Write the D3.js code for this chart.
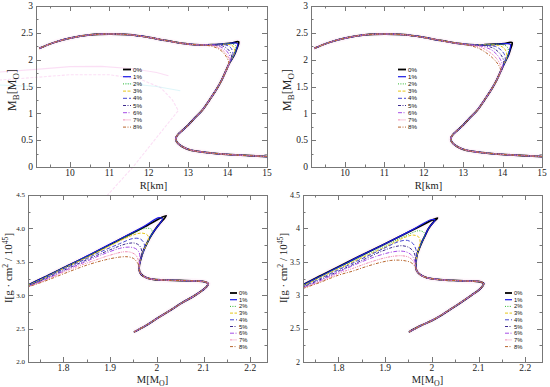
<!DOCTYPE html>
<html><head><meta charset="utf-8">
<script src="https://cdn.jsdelivr.net/npm/d3@7"></script>
<style>body{margin:0;background:#fff}svg{display:block}</style>
</head><body><svg id="c" width="550" height="387"></svg>
<script>
// ---------- series ----------
const seriesLabels = ["0%","1%","2%","3%","4%","5%","6%","7%","8%"];
const seriesColors = ["#000000","#1a1ae6","#2eb82e","#e6c619","#4747d1","#3d2b8f","#a64de6","#f08cb4","#b8662e"];
const seriesDash   = [null,null,"1,1.4","3,1.5","4,2","3,1.5,1,1.5","4,1.5,1,1.5","2.5,1,1,1,1,1","3,1.5,1,1.5"];
const seriesWidth  = [1.8,1.2,1,1,1,1,1,1,1];

// ---------- tick labels ----------
const rTicks = [10,11,12,13,14,15];
const mbTicks = [0,0.5,1,1.5,2,2.5,3];
const mTicks = [1.8,1.9,2.0,2.1,2.2];
const iTicks = [2.0,2.5,3.0,3.5,4.0,4.5];

// ---------- M_B vs R (top panels) ----------
const mrLower = [[15.0,0.195],[14.6,0.21],[14.2,0.225],[13.8,0.245],[13.5,0.267],[13.2,0.295],[13.0,0.33],[12.85,0.38],[12.74,0.44],[12.69,0.5],[12.7,0.56],[12.76,0.62],[12.85,0.68],[13.0,0.78],[13.15,0.9],[13.36,1.06],[13.55,1.26],[13.72,1.45],[13.85,1.62]];
const mrUpper = [[13.0,2.29],[12.67,2.325],[12.3,2.375],[12.0,2.415],[11.5,2.465],[11.0,2.478],[10.5,2.462],[10.0,2.40],[9.6,2.32],[9.22,2.21]];
const mrMidTL = [
  [[13.95,1.78],[14.05,1.94],[14.17,2.09],[14.23,2.2],[14.28,2.33],[14.1,2.31],[13.85,2.29],[13.6,2.278],[13.3,2.275]],
  [[13.95,1.78],[14.05,1.94],[14.17,2.09],[14.23,2.2],[14.26,2.29],[14.2,2.31],[14.0,2.3],[13.8,2.288],[13.6,2.278],[13.3,2.275]],
  [[13.95,1.78],[14.05,1.94],[14.16,2.09],[14.21,2.2],[14.2,2.27],[14.1,2.295],[13.9,2.29],[13.6,2.278],[13.3,2.275]],
  [[13.95,1.78],[14.05,1.94],[14.15,2.08],[14.18,2.17],[14.14,2.25],[14.03,2.285],[13.85,2.287],[13.6,2.277],[13.3,2.275]],
  [[13.95,1.78],[14.05,1.94],[14.13,2.06],[14.13,2.15],[14.07,2.23],[13.95,2.275],[13.8,2.285],[13.6,2.277],[13.3,2.275]],
  [[13.95,1.78],[14.05,1.94],[14.1,2.03],[14.08,2.12],[14.0,2.2],[13.88,2.255],[13.75,2.278],[13.6,2.276],[13.3,2.275]],
  [[13.95,1.78],[14.05,1.94],[14.07,2.0],[14.04,2.09],[13.95,2.18],[13.82,2.24],[13.7,2.268],[13.55,2.274],[13.3,2.275]],
  [[13.95,1.78],[14.04,1.93],[14.05,1.98],[14.0,2.07],[13.9,2.16],[13.77,2.225],[13.65,2.26],[13.5,2.272],[13.3,2.275]],
  [[13.95,1.78],[14.02,1.9],[14.03,1.95],[13.98,2.04],[13.88,2.14],[13.75,2.21],[13.6,2.25],[13.45,2.268],[13.3,2.273]]
];
const mrMidTR = [
  [[13.95,1.78],[14.05,1.94],[14.15,2.09],[14.2,2.2],[14.24,2.32],[14.05,2.3],[13.8,2.287],[13.55,2.278],[13.3,2.275]],
  [[13.95,1.78],[14.05,1.94],[14.15,2.09],[14.19,2.2],[14.2,2.28],[14.12,2.3],[13.9,2.29],[13.6,2.278],[13.3,2.275]],
  [[13.95,1.78],[14.05,1.94],[14.13,2.07],[14.15,2.17],[14.1,2.25],[13.95,2.285],[13.7,2.282],[13.3,2.275]],
  [[13.95,1.78],[14.04,1.93],[14.1,2.04],[14.1,2.13],[14.03,2.22],[13.9,2.265],[13.65,2.277],[13.3,2.275]],
  [[13.95,1.78],[14.03,1.91],[14.07,2.0],[14.05,2.09],[13.96,2.18],[13.82,2.245],[13.6,2.27],[13.3,2.274]],
  [[13.95,1.78],[14.01,1.88],[14.03,1.94],[14.0,2.04],[13.9,2.14],[13.75,2.22],[13.55,2.26],[13.3,2.272]],
  [[13.95,1.78],[13.99,1.85],[14.0,1.88],[13.96,1.98],[13.85,2.1],[13.7,2.19],[13.5,2.245],[13.3,2.268]],
  [[13.95,1.78],[13.97,1.84],[13.92,1.94],[13.8,2.06],[13.63,2.16],[13.45,2.23],[13.25,2.265]],
  [[13.95,1.79],[13.95,1.82],[13.88,1.92],[13.75,2.03],[13.58,2.13],[13.4,2.21],[13.2,2.258]]
];

// ---------- I vs M (bottom panels) ----------
const imLowerBL = [[1.951,2.45],[1.975,2.54],[2.0,2.65],[2.03,2.78],[2.055,2.89],[2.08,2.99],[2.097,3.07],[2.107,3.13],[2.11,3.175],[2.103,3.2],[2.085,3.212],[2.05,3.22],[2.02,3.225],[1.995,3.235],[1.98,3.255],[1.97,3.29],[1.964,3.34],[1.962,3.4]];
const imMidBL = [
  [[1.963,3.47],[1.966,3.55],[1.97,3.64],[1.977,3.75],[1.985,3.86],[1.995,3.97],[2.006,4.07],[2.02,4.19],[1.97,4.01],[1.9,3.76],[1.85,3.58],[1.8,3.41],[1.76,3.27],[1.724,3.15]],
  [[1.963,3.47],[1.966,3.55],[1.97,3.64],[1.977,3.75],[1.985,3.86],[1.995,3.97],[2.005,4.06],[2.012,4.14],[2.005,4.16],[1.97,4.02],[1.9,3.765],[1.85,3.585],[1.8,3.41],[1.76,3.27],[1.724,3.15]],
  [[1.963,3.47],[1.966,3.55],[1.97,3.64],[1.977,3.75],[1.985,3.86],[1.99,3.94],[1.988,3.99],[1.975,4.0],[1.95,3.93],[1.9,3.75],[1.85,3.575],[1.8,3.405],[1.76,3.265],[1.724,3.148]],
  [[1.963,3.47],[1.966,3.55],[1.97,3.64],[1.977,3.75],[1.982,3.84],[1.98,3.9],[1.968,3.93],[1.945,3.89],[1.9,3.74],[1.85,3.565],[1.8,3.4],[1.76,3.26],[1.724,3.145]],
  [[1.963,3.47],[1.966,3.55],[1.972,3.66],[1.973,3.77],[1.965,3.84],[1.95,3.85],[1.92,3.77],[1.88,3.65],[1.85,3.55],[1.8,3.39],[1.76,3.25],[1.724,3.14]],
  [[1.963,3.47],[1.966,3.55],[1.968,3.65],[1.963,3.74],[1.952,3.78],[1.935,3.77],[1.9,3.68],[1.85,3.53],[1.8,3.37],[1.76,3.24],[1.724,3.135]],
  [[1.963,3.47],[1.964,3.55],[1.962,3.64],[1.954,3.7],[1.94,3.72],[1.92,3.7],[1.88,3.6],[1.85,3.51],[1.8,3.36],[1.76,3.23],[1.724,3.13]],
  [[1.962,3.46],[1.96,3.53],[1.955,3.6],[1.945,3.64],[1.93,3.65],[1.9,3.6],[1.87,3.53],[1.83,3.43],[1.8,3.345],[1.76,3.22],[1.724,3.128]],
  [[1.961,3.45],[1.957,3.5],[1.95,3.55],[1.938,3.575],[1.92,3.57],[1.89,3.53],[1.85,3.45],[1.8,3.32],[1.76,3.21],[1.724,3.125]]
];
const imLowerBR = [[1.951,2.45],[1.975,2.54],[2.0,2.62],[2.014,2.675],[2.04,2.79],[2.064,2.9],[2.085,3.0],[2.1,3.075],[2.108,3.13],[2.111,3.175],[2.1,3.205],[2.08,3.21],[2.057,3.218],[2.03,3.225],[2.007,3.24],[1.99,3.26],[1.979,3.29],[1.97,3.34],[1.966,3.4]];
const imMidBR = [
  [[1.966,3.475],[1.968,3.6],[1.973,3.7],[1.979,3.8],[1.986,3.9],[1.993,4.0],[2.003,4.09],[2.012,4.155],[1.96,3.98],[1.9,3.77],[1.85,3.6],[1.8,3.425],[1.76,3.285],[1.724,3.155]],
  [[1.966,3.475],[1.968,3.6],[1.973,3.7],[1.979,3.8],[1.986,3.9],[1.993,4.0],[2.002,4.08],[2.007,4.125],[1.998,4.13],[1.96,3.985],[1.9,3.77],[1.85,3.6],[1.8,3.42],[1.76,3.28],[1.724,3.152]],
  [[1.966,3.475],[1.968,3.6],[1.973,3.7],[1.979,3.8],[1.984,3.88],[1.983,3.94],[1.972,3.965],[1.95,3.91],[1.9,3.74],[1.85,3.58],[1.8,3.41],[1.76,3.27],[1.724,3.145]],
  [[1.966,3.475],[1.968,3.6],[1.972,3.7],[1.975,3.8],[1.972,3.87],[1.96,3.9],[1.94,3.86],[1.9,3.72],[1.85,3.56],[1.8,3.395],[1.76,3.26],[1.724,3.14]],
  [[1.966,3.475],[1.967,3.58],[1.966,3.68],[1.96,3.77],[1.948,3.82],[1.93,3.805],[1.9,3.71],[1.85,3.545],[1.8,3.38],[1.76,3.245],[1.724,3.13]],
  [[1.966,3.47],[1.965,3.56],[1.961,3.65],[1.952,3.71],[1.938,3.74],[1.92,3.725],[1.89,3.65],[1.85,3.52],[1.8,3.36],[1.76,3.23],[1.724,3.12]],
  [[1.965,3.46],[1.962,3.54],[1.955,3.61],[1.944,3.65],[1.93,3.66],[1.91,3.64],[1.88,3.58],[1.85,3.5],[1.8,3.345],[1.76,3.215],[1.724,3.112]],
  [[1.964,3.45],[1.959,3.52],[1.95,3.57],[1.937,3.59],[1.92,3.585],[1.9,3.56],[1.87,3.5],[1.83,3.4],[1.8,3.325],[1.76,3.2],[1.724,3.105]],
  [[1.963,3.44],[1.955,3.49],[1.943,3.515],[1.928,3.525],[1.912,3.52],[1.89,3.49],[1.86,3.43],[1.83,3.36],[1.8,3.3],[1.76,3.19],[1.724,3.10]]
];

// ---------- faint ghost traces visible in the top-left panel ----------
const ghostPinkA = [[8.2,1.77],[9.14,1.82],[10.0,1.87],[10.8,1.875],[11.6,1.83],[12.2,1.76],[12.5,1.70]];
const ghostPinkB = [[8.2,1.62],[9.14,1.67],[10.0,1.72],[11.0,1.72],[11.8,1.63],[12.3,1.48],[12.6,1.25],[12.75,1.05],[12.2,0.55],[11.6,0.0],[10.91,-0.56]];
const ghostCyanA = [[8.2,1.53],[9.1,1.5]];
const ghostCyanB = [[11.4,1.56],[12.2,1.5],[12.8,1.42]];

// ---------- drawing ----------
const svg = d3.select("#c");
const serif = "'Liberation Serif','Times New Roman',serif";
const sans = "'Liberation Sans',Arial,sans-serif";

function panel(o){
  const x = d3.scaleLinear().domain(o.xd).range([o.x0,o.x1]);
  const y = d3.scaleLinear().domain(o.yd).range([o.y1,o.y0]);
  const g = svg.append("g");
  const cid = "clip"+o.id;
  svg.append("clipPath").attr("id",cid).append("rect")
    .attr("x",o.x0).attr("y",o.y0).attr("width",o.x1-o.x0).attr("height",o.y1-o.y0);
  const line = d3.line().x(d=>x(d[0])).y(d=>y(d[1])).curve(d3.curveCatmullRom.alpha(0.5));
  const lineStraight = d3.line().x(d=>x(d[0])).y(d=>y(d[1]));

  // ghosts (unclipped, faint)
  (o.ghosts||[]).forEach(gh=>{
    g.append("path").attr("d",lineStraight(gh.d)).attr("fill","none")
     .attr("stroke",gh.c).attr("stroke-width",1.1).attr("stroke-dasharray",gh.dash||null).attr("opacity",0.55);
  });

  // axes ticks (inside, mirrored)
  const minorX = d3.range(Math.ceil(o.xd[0]/o.xmin)*o.xmin, o.xd[1]+1e-9, o.xmin);
  const minorY = d3.range(Math.ceil(o.yd[0]/o.ymin)*o.ymin, o.yd[1]+1e-9, o.ymin);
  const tg = g.append("g").attr("stroke","#777").attr("stroke-width",1);
  function tickX(vals,len){
    vals.forEach(v=>{ const px=Math.round(x(v))+0.5;
      tg.append("line").attr("x1",px).attr("x2",px).attr("y1",o.y1).attr("y2",o.y1-len);
      tg.append("line").attr("x1",px).attr("x2",px).attr("y1",o.y0).attr("y2",o.y0+len);});
  }
  function tickY(vals,len){
    vals.forEach(v=>{ const py=Math.round(y(v))+0.5;
      tg.append("line").attr("y1",py).attr("y2",py).attr("x1",o.x0).attr("x2",o.x0+len);
      tg.append("line").attr("y1",py).attr("y2",py).attr("x1",o.x1).attr("x2",o.x1-len);});
  }
  tickX(minorX,2.5); tickY(minorY,2.5);
  tickX(o.xt.filter(v=>v>o.xd[0]&&v<o.xd[1]),5); tickY(o.yt.filter(v=>v>o.yd[0]&&v<o.yd[1]),5);

  // tick labels
  o.xt.forEach(v=>{
    g.append("text").attr("x",x(v)).attr("y",o.y1+o.xlabDy).attr("text-anchor","middle")
     .attr("font-family",serif).attr("font-size",o.xfs).attr("fill","#222").text(o.xf(v));
  });
  o.yt.forEach(v=>{
    g.append("text").attr("x",o.x0-3).attr("y",y(v)).attr("dy","0.35em").attr("text-anchor","end")
     .attr("font-family",serif).attr("font-size",o.yfs).attr("fill","#222").text(o.yf(v));
  });

  // curves
  const cg = g.append("g").attr("clip-path",`url(#${cid})`);
  cg.append("path").attr("d",line(o.series[0])).attr("fill","none")
    .attr("stroke","#fbe2f3").attr("stroke-width",5).attr("opacity",0.35);
  o.series.forEach((s,i)=>{
    cg.append("path").attr("d",line(s)).attr("fill","none")
      .attr("stroke",seriesColors[i]).attr("stroke-width",seriesWidth[i])
      .attr("stroke-dasharray",seriesDash[i]).attr("stroke-linejoin","round");
  });

  // frame
  g.append("rect").attr("x",o.x0+0.5).attr("y",o.y0+0.5).attr("width",o.x1-o.x0).attr("height",o.y1-o.y0)
   .attr("fill","none").attr("stroke","#777").attr("stroke-width",1);

  // legend
  seriesLabels.forEach((lab,i)=>{
    const ly = o.ly + i*o.ldy;
    g.append("line").attr("x1",o.lx).attr("x2",o.lx+o.llen).attr("y1",ly).attr("y2",ly)
     .attr("stroke",seriesColors[i]).attr("stroke-width",seriesWidth[i]).attr("stroke-dasharray",seriesDash[i]);
    g.append("text").attr("x",o.lx+o.llen+2).attr("y",ly).attr("dy","0.35em")
     .attr("font-family",sans).attr("font-size",o.lfs).attr("fill","#111").text(lab);
  });

  // axis titles
  const xt = g.append("text").attr("x",(o.x0+o.x1)/2 + o.xtDx).attr("y",o.xtY).attr("text-anchor","middle")
    .attr("font-family",serif).attr("font-size",10.5).attr("fill","#222");
  o.xtitle(xt);
  const yt = g.append("text").attr("transform",`translate(${o.ytX},${o.ytY}) rotate(-90)`).attr("text-anchor","middle")
    .attr("font-family",serif).attr("font-size",o.ytfs).attr("fill","#222");
  o.ytitle(yt);
}

const fmtPlain = v => String(+v.toFixed(2));
const fmt1 = v => v.toFixed(1);
const mbTitle = t => { t.append("tspan").text("M"); t.append("tspan").attr("font-size","75%").attr("dy",3).text("B");
  t.append("tspan").attr("dy",-3).text("[M"); t.append("tspan").attr("font-size","75%").attr("dy",3).text("O"); t.append("tspan").attr("dy",-3).text("]"); };
const rTitle = t => t.text("R[km]");
const mTitle = t => { t.append("tspan").text("M[M"); t.append("tspan").attr("font-size","75%").attr("dy",2.5).text("O"); t.append("tspan").attr("dy",-2.5).text("]"); };
const iTitle = t => { t.append("tspan").text("I[g · cm"); t.append("tspan").attr("font-size","70%").attr("dy",-4).text("2");
  t.append("tspan").attr("dy",4).text(" / 10"); t.append("tspan").attr("font-size","70%").attr("dy",-4).text("45"); t.append("tspan").attr("dy",4).text("]"); };

const mrSeries = mids => mids.map(m => mrLower.concat(m, mrUpper));
const imSeries = (low,mids) => mids.map(m => low.concat(m));

panel({id:"tl", xd:[9.14,15], yd:[0,3], x0:36, x1:267, y0:6, y1:167, xt:rTicks, yt:mbTicks, xmin:0.5, ymin:0.25,
  xf:fmtPlain, yf:fmtPlain, xfs:9.5, yfs:9.5, xlabDy:9, series:mrSeries(mrMidTL),
  lx:123, ly:69.5, ldy:7.2, llen:8, lfs:6.2, xtitle:rTitle, xtDx:2, xtY:189, ytitle:mbTitle, ytX:16, ytY:90, ytfs:12,
  ghosts:[{d:ghostPinkA,c:"#f7c4ec"},{d:ghostPinkB,c:"#f7c4ec",dash:"3,1.5"},{d:ghostCyanA,c:"#bff0f6"},{d:ghostCyanB,c:"#c4eef4"}]});
panel({id:"tr", xd:[9.14,15], yd:[0,3], x0:311, x1:542, y0:6, y1:167, xt:rTicks, yt:mbTicks, xmin:0.5, ymin:0.25,
  xf:fmtPlain, yf:fmtPlain, xfs:9.5, yfs:9.5, xlabDy:9, series:mrSeries(mrMidTR),
  lx:398, ly:69.5, ldy:7.2, llen:8, lfs:6.2, xtitle:rTitle, xtDx:2, xtY:189, ytitle:mbTitle, ytX:291, ytY:90, ytfs:12});
panel({id:"bl", xd:[1.724,2.236], yd:[2,4.5], x0:28, x1:267, y0:195, y1:362, xt:mTicks, yt:iTicks, xmin:0.05, ymin:0.25,
  xf:fmtPlain, yf:fmt1, xfs:9.5, yfs:7, xlabDy:9, series:imSeries(imLowerBL,imMidBL),
  lx:230, ly:293, ldy:6.7, llen:7, lfs:5.8, xtitle:mTitle, xtDx:5, xtY:383, ytitle:iTitle, ytX:12, ytY:268, ytfs:11});
panel({id:"br", xd:[1.724,2.236], yd:[2,4.5], x0:303, x1:542, y0:195, y1:362, xt:mTicks, yt:iTicks, xmin:0.05, ymin:0.25,
  xf:fmtPlain, yf:fmtPlain, xfs:9.5, yfs:8, xlabDy:9, series:imSeries(imLowerBR,imMidBR),
  lx:505, ly:293, ldy:6.7, llen:7, lfs:5.8, xtitle:mTitle, xtDx:5, xtY:383, ytitle:iTitle, ytX:287, ytY:268, ytfs:11});
</script></body></html>
